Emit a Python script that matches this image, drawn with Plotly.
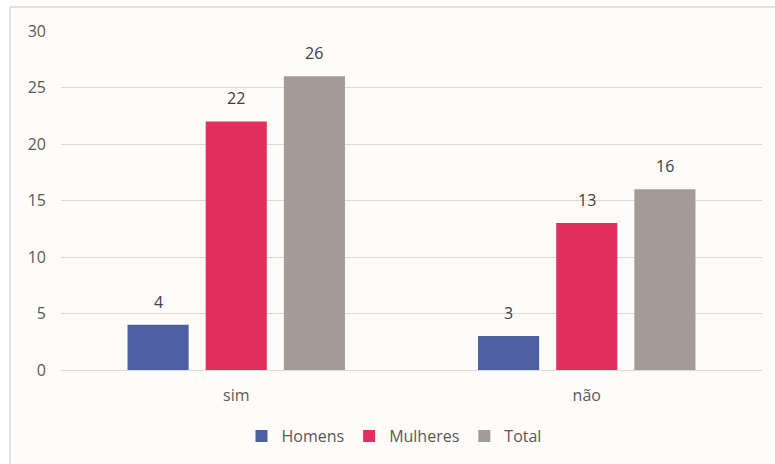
import plotly.graph_objects as go

categories = ["sim", "não"]
homens = [4, 3]
mulheres = [22, 13]
total = [26, 16]
series_names = ["Homens", "Mulheres", "Total"]
colors = ["#4E5FA2", "#E22F5E", "#A59B96"]
y_ticks = [0, 5, 10, 15, 20, 25, 30]

FONT = "Open Sans, Liberation Sans, sans-serif"
TEXT_COLOR = "#595959"

fig = go.Figure()
for name, vals, col in zip(series_names, [homens, mulheres, total], colors):
    fig.add_trace(go.Bar(
        name=name, x=categories, y=vals, marker_color=col,
        marker_line_width=0,
    ))

# value labels above each bar (offset to each bar's slot in the group)
shifts = [-78, 0, 78]
for vals, dx in zip([homens, mulheres, total], shifts):
    for c, v in zip(categories, vals):
        fig.add_annotation(
            x=c, y=v, text=str(v), showarrow=False,
            xshift=dx, yshift=10, yanchor="bottom",
            font=dict(family=FONT, size=16, color="#404040"),
        )

# white strips outside the chart frame, then the frame's left and top border
fig.add_shape(
    type="rect", xref="paper", yref="paper",
    x0=-0.2, x1=-0.0728, y0=-0.8, y1=1.2,
    line=dict(width=0), fillcolor="white", layer="below",
)
fig.add_shape(
    type="rect", xref="paper", yref="paper",
    x0=-0.2, x1=1.5, y0=1.0708, y1=1.2,
    line=dict(width=0), fillcolor="white", layer="below",
)
fig.add_shape(
    type="line", xref="paper", yref="paper",
    x0=-0.0728, x1=-0.0728, y0=-0.8, y1=1.0708,
    line=dict(color="#D9D9D9", width=1.5), layer="below",
)
fig.add_shape(
    type="line", xref="paper", yref="paper",
    x0=-0.0728, x1=1.5, y0=1.0708, y1=1.0708,
    line=dict(color="#D9D9D9", width=1.5), layer="below",
)

fig.update_layout(
    width=775, height=464,
    margin=dict(l=61, r=13, t=31, b=94, autoexpand=False),
    paper_bgcolor="#FDFCFA", plot_bgcolor="rgba(0,0,0,0)",
    barmode="group", bargap=0.331, bargroupgap=0.218,
    font=dict(family=FONT, size=16, color=TEXT_COLOR),
    showlegend=True,
    legend=dict(
        orientation="h", x=0.475, xanchor="center", y=-0.145, yanchor="top",
        font=dict(family=FONT, size=16, color=TEXT_COLOR),
        bgcolor="rgba(0,0,0,0)", itemwidth=30, traceorder="normal",
    ),
    xaxis=dict(
        showgrid=False, showline=False, ticks="",
        ticklabelstandoff=14,
        tickfont=dict(family=FONT, size=16, color=TEXT_COLOR),
    ),
    yaxis=dict(
        range=[0, 30], tickvals=y_ticks,
        showgrid=True, gridcolor="#D9D9D9", gridwidth=1,
        zeroline=True, zerolinecolor="#D9D9D9", zerolinewidth=1,
        showline=False, ticks="", ticklabelstandoff=14,
        tickfont=dict(family=FONT, size=16, color=TEXT_COLOR),
    ),
)

fig.write_html("out.html")
